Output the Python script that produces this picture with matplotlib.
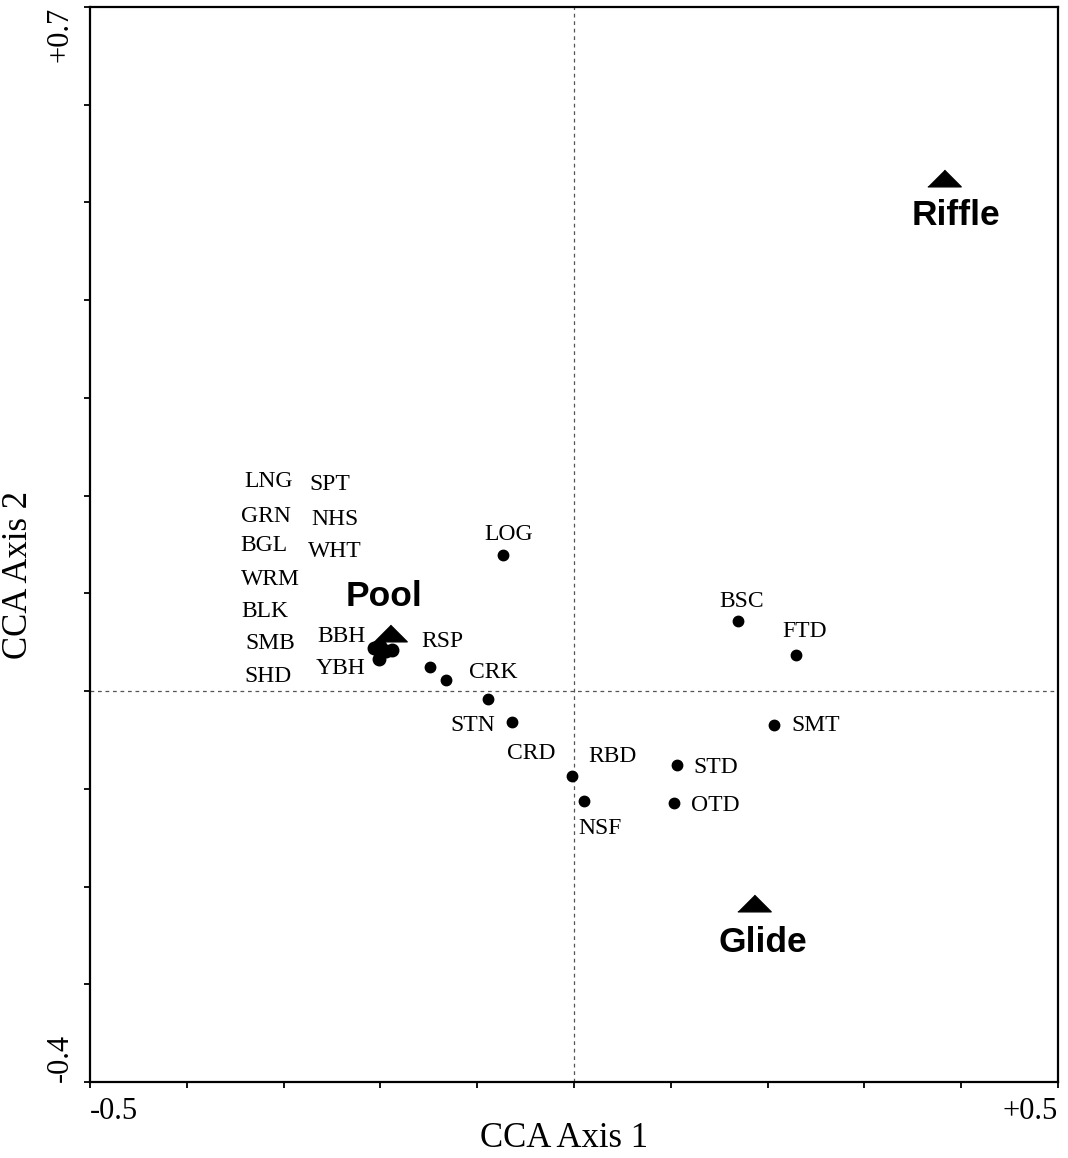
import numpy as np
import matplotlib
matplotlib.use('Agg')
import matplotlib.pyplot as plt

# species scores (CCA axis 1, axis 2)
species = ['LOG', 'RSP', 'CRK', 'STN', 'CRD', 'RBD', 'NSF',
           'BSC', 'FTD', 'SMT', 'STD', 'OTD']
sp_x = [-0.073, -0.149, -0.132, -0.089, -0.064, -0.002, 0.010,
        0.169, 0.229, 0.207, 0.106, 0.103]
sp_y = [0.139, 0.025, 0.011, -0.008, -0.032, -0.087, -0.112,
        0.072, 0.037, -0.035, -0.076, -0.115]

# species sitting on top of the pool centroid
pool_x = [-0.207, -0.200, -0.194, -0.188, -0.201]
pool_y = [0.044, 0.046, 0.041, 0.042, 0.033]
pool_species = ['LNG', 'SPT', 'GRN', 'NHS', 'BGL', 'WHT', 'WRM',
                'BLK', 'BBH', 'SMB', 'YBH', 'SHD']

# habitat centroids
habitats = ['Riffle', 'Pool', 'Glide']
hab_x = [0.382, -0.190, 0.186]
hab_y = [0.525, 0.059, -0.217]

# label placement (data coords)
sp_lab = {'LOG': (-0.067, 0.160), 'RSP': (-0.136, 0.051), 'CRK': (-0.083, 0.019),
          'STN': (-0.105, -0.035), 'CRD': (-0.044, -0.064), 'RBD': (0.040, -0.067),
          'NSF': (0.027, -0.141), 'BSC': (0.173, 0.092), 'FTD': (0.238, 0.061),
          'SMT': (0.250, -0.035), 'STD': (0.146, -0.078), 'OTD': (0.146, -0.117)}
pool_lab = [(-0.316, 0.214), (-0.252, 0.211), (-0.318, 0.179), (-0.247, 0.176),
            (-0.320, 0.149), (-0.247, 0.143), (-0.314, 0.114), (-0.319, 0.081),
            (-0.240, 0.056), (-0.314, 0.049), (-0.241, 0.023), (-0.316, 0.015)]
hab_lab = [(0.395, 0.487), (-0.196, 0.097), (0.195, -0.257)]

serif = 'Liberation Serif'
sans = 'Liberation Sans'

fig = plt.figure(figsize=(10.68, 11.58), dpi=100)
ax = fig.add_axes([0.0843, 0.0656, 0.9063, 0.9284])
ax.set_xlim(-0.5, 0.5)
ax.set_ylim(-0.4, 0.7)

ax.axvline(0, color='#555555', lw=0.9, ls=(0, (3, 3)), zorder=1)
ax.axhline(0, color='#555555', lw=0.9, ls=(0, (3, 3)), zorder=1)

ax.plot(sp_x, sp_y, 'o', color='black', ms=7.5, zorder=3)
ax.plot(pool_x, pool_y, 'o', color='black', ms=9, zorder=3)

tri = [(-1, -0.5), (1, -0.5), (0, 0.5)]
ax.plot(hab_x, hab_y, ls='none', marker=tri, color='black', ms=24, zorder=4)

for name, px, py in zip(species, sp_x, sp_y):
    lx, ly = sp_lab[name]
    ax.text(lx, ly, name, family=serif, fontsize=17, ha='center', va='center')
for name, (lx, ly) in zip(pool_species, pool_lab):
    ax.text(lx, ly, name, family=serif, fontsize=17, ha='center', va='center')
for name, (lx, ly) in zip(habitats, hab_lab):
    ax.text(lx, ly, name, family=sans, fontsize=25.5, fontweight='bold',
            ha='center', va='center')

# ticks every 0.1, labels only at the ends
xt = np.round(np.arange(-0.5, 0.51, 0.1), 2)
yt = np.round(np.arange(-0.4, 0.71, 0.1), 2)
ax.set_xticks(xt)
ax.set_yticks(yt)
ax.set_xticklabels(['-0.5'] + [''] * (len(xt) - 2) + ['+0.5'])
ax.set_yticklabels(['-0.4'] + [''] * (len(yt) - 2) + ['+0.7'], rotation=90)
ax.tick_params(direction='out', length=4, width=1.3, pad=7)
for lab in ax.get_xticklabels() + ax.get_yticklabels():
    lab.set_family(serif)
    lab.set_fontsize(22)
xl = ax.get_xticklabels()
xl[0].set_ha('left')
xl[-1].set_ha('right')
yl = ax.get_yticklabels()
yl[0].set_va('bottom')
yl[-1].set_va('top')

for s in ax.spines.values():
    s.set_linewidth(1.6)

ax.set_xlabel('CCA Axis 1', family=serif, fontsize=25)
ax.set_ylabel('CCA Axis 2', family=serif, fontsize=25)
ax.xaxis.set_label_coords(0.49, -0.037)
ax.yaxis.set_label_coords(-0.057, 0.472)

fig.savefig('out.png', dpi=100)
